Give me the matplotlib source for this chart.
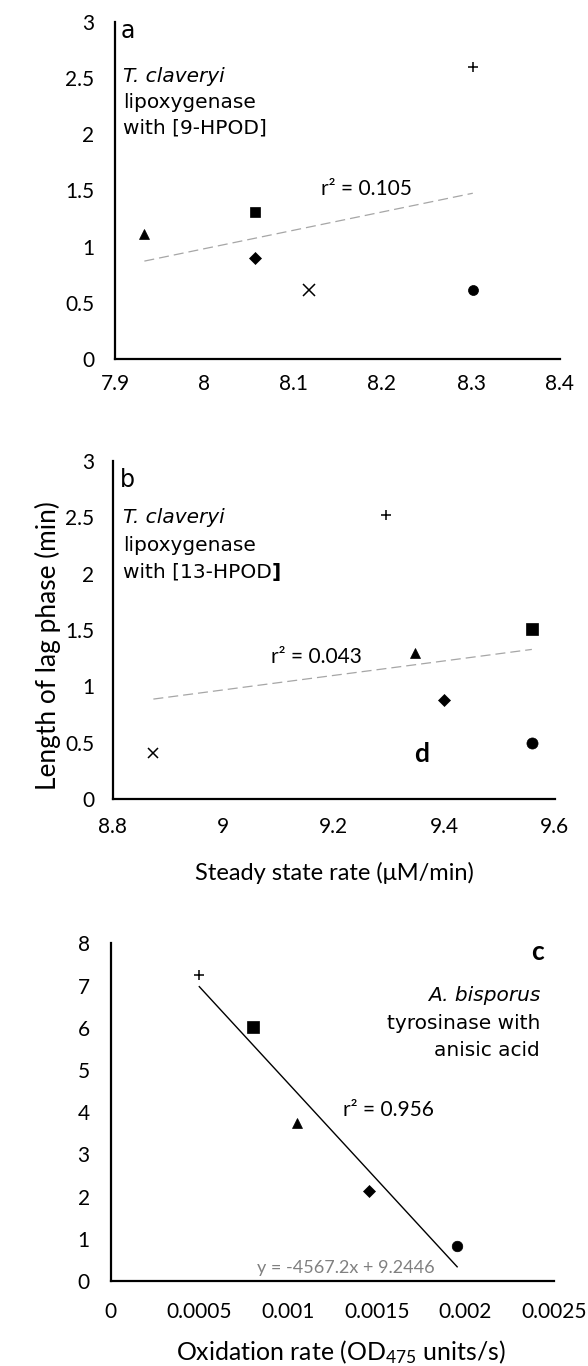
import numpy as np
import matplotlib
matplotlib.use("Agg")
import matplotlib.pyplot as plt

plt.rcParams['font.family'] = ['Lato', 'DejaVu Sans']
plt.rcParams['mathtext.fontset'] = 'custom'
plt.rcParams['mathtext.rm'] = 'Lato'
plt.rcParams['mathtext.it'] = 'Lato:italic'

# ---------------- data ----------------
# marker per compound (same order in every panel)
markers = ['+', 's', '^', 'D', 'o', 'x']

# panel a: T. claveryi lipoxygenase with [9-HPOD]
a_rate = [8.302, 8.057, 7.933, 8.057, 8.302, 8.118]
a_lag = [2.60, 1.31, 1.11, 0.90, 0.61, 0.61]
a_r2 = "r\u00b2 = 0.105"

# panel b: T. claveryi lipoxygenase with [13-HPOD]
b_rate = [9.295, 9.559, 9.347, 9.400, 9.559, 8.874]
b_lag = [2.52, 1.51, 1.30, 0.88, 0.50, 0.41]
b_r2 = "r\u00b2 = 0.043"

# panel c: A. bisporus tyrosinase with anisic acid
c_rate = [0.000500, 0.000805, 0.001052, 0.001457, 0.001954]
c_lag = [7.24, 6.01, 3.74, 2.13, 0.83]
c_r2 = "r\u00b2 = 0.956"
c_eq = "y = -4567.2x + 9.2446"

ab_yticks = [0, 0.5, 1, 1.5, 2, 2.5, 3]
ab_yticklabels = ["0", "0.5", "1", "1.5", "2", "2.5", "3"]
a_xticks = [7.9, 8.0, 8.1, 8.2, 8.3, 8.4]
a_xticklabels = ["7.9", "8", "8.1", "8.2", "8.3", "8.4"]
b_xticks = [8.8, 9.0, 9.2, 9.4, 9.6]
b_xticklabels = ["8.8", "9", "9.2", "9.4", "9.6"]
c_xticks = [0, 0.0005, 0.001, 0.0015, 0.002, 0.0025]
c_xticklabels = ["0", "0.0005", "0.001", "0.0015", "0.002", "0.0025"]
c_yticks = [0, 1, 2, 3, 4, 5, 6, 7, 8]
c_yticklabels = ["0", "1", "2", "3", "4", "5", "6", "7", "8"]

# ---------------- layout ----------------
W, H = 588, 1366
fig = plt.figure(figsize=(W / 100, H / 100), dpi=100)
fig.patch.set_facecolor('white')
renderer = fig.canvas.get_renderer()


def add_ax(l, r, t, b):
    return fig.add_axes([l / W, 1 - b / H, (r - l) / W, (b - t) / H])


def ftext(x, y, s, **kw):
    return fig.text(x / W, 1 - y / H, s, **kw)


def fit_width(t, target_px, vertical=False):
    """scale the font so the text spans target_px pixels"""
    for _ in range(3):
        bb = t.get_window_extent(renderer)
        cur = bb.height if vertical else bb.width
        t.set_fontsize(t.get_fontsize() * target_px / cur)
    return t.get_fontsize()


ANN = dict(family='DejaVu Sans', fontsize=14.5, color='black')
TICK_FS = 15
R2_FS = 15


def style(ax, xpad, ypad):
    for s in ['top', 'right']:
        ax.spines[s].set_visible(False)
    for s in ['left', 'bottom']:
        ax.spines[s].set_linewidth(1.6)
        ax.spines[s].set_color('black')
    ax.tick_params(axis='both', length=0, labelsize=TICK_FS, colors='black')
    ax.tick_params(axis='x', pad=xpad)
    ax.tick_params(axis='y', pad=ypad)


def scatter_points(ax, xs, ys, sizes):
    for x, y, m in zip(xs, ys, markers):
        mew = 1.1 if m in ['+', 'x'] else 0.5
        ax.plot([x], [y], linestyle='none', marker=m, markersize=sizes[m],
                color='black', markeredgewidth=mew, clip_on=False, zorder=3)


def trend(ax, xs, ys, **kw):
    k, c0 = np.polyfit(xs, ys, 1)
    xx = np.array([min(xs), max(xs)])
    ax.plot(xx, k * xx + c0, **kw)


# ---- panel a ----
axa = add_ax(115, 560, 21.7, 359)
axa.set_xlim(7.9, 8.4)
axa.set_ylim(0, 3)
axa.set_xticks(a_xticks, a_xticklabels)
axa.set_yticks(ab_yticks, ab_yticklabels)
style(axa, xpad=11, ypad=15)
trend(axa, a_rate, a_lag, color='#a6a6a6', lw=0.9, linestyle=(0, (8, 4)), zorder=2)
scatter_points(axa, a_rate, a_lag,
               {'+': 7.5, 's': 7.5, '^': 6.8, 'D': 6.2, 'o': 7.2, 'x': 8.5})
ftext(121, 38.3, "a", family='DejaVu Sans', fontsize=17, va='baseline')
ftext(123, 82, "T. claveryi", style='italic', va='baseline', **ANN)
ftext(123, 108, "lipoxygenase", va='baseline', **ANN)
ftext(123, 134, "with [9-HPOD]", va='baseline', **ANN)
ftext(320.6, 195, a_r2, fontsize=R2_FS, va='baseline')

# ---- panel b ----
axb = add_ax(112.5, 554.5, 460.7, 799.3)
axb.set_xlim(8.8, 9.6)
axb.set_ylim(0, 3)
axb.set_xticks(b_xticks, b_xticklabels)
axb.set_yticks(ab_yticks, ab_yticklabels)
style(axb, xpad=13, ypad=13)
trend(axb, b_rate, b_lag, color='#a6a6a6', lw=0.9, linestyle=(0, (8, 4)), zorder=2)
scatter_points(axb, b_rate, b_lag,
               {'+': 6.5, 's': 8.3, '^': 7.5, 'D': 6.5, 'o': 8.0, 'x': 7.8})
ftext(120, 486.7, "b", family='DejaVu Sans', fontsize=17, va='baseline')
ftext(123, 523, "T. claveryi", style='italic', va='baseline', **ANN)
ftext(123, 551, "lipoxygenase", va='baseline', **ANN)
tb = ftext(123, 578, "with [13-HPOD", va='baseline', **ANN)
bb = tb.get_window_extent(renderer)
fig.text(bb.x1 / W, 1 - 578 / H, "]", va='baseline', fontweight='bold', **ANN)
ftext(270.7, 662.7, b_r2, fontsize=R2_FS, va='baseline')
ftext(422, 762, "d", fontsize=19, fontweight='bold', va='baseline', ha='center')

# axis titles: size taken from the y title length
yl = ftext(48, 646, "Length of lag phase (min)", fontsize=19, rotation=90,
           ha='center', va='center')
TITLE_FS = fit_width(yl, 287, vertical=True)
ftext(334, 880, "Steady state rate (\u03bcM/min)", fontsize=TITLE_FS * 0.9,
      ha='center', va='baseline')

# ---- panel c ----
axc = add_ax(110.6, 554, 943.3, 1281)
axc.set_xlim(0, 0.0025)
axc.set_ylim(0, 8)
axc.set_xticks(c_xticks, c_xticklabels)
axc.set_yticks(c_yticks, c_yticklabels)
style(axc, xpad=15, ypad=15)
trend(axc, c_rate, c_lag, color='black', lw=1.0, zorder=2)
scatter_points(axc, c_rate, c_lag,
               {'+': 7.8, 's': 8.0, '^': 7.5, 'D': 6.5, 'o': 7.6, 'x': 8})
ftext(544, 960, "c", fontsize=19, fontweight='bold', va='baseline', ha='right')
ftext(540, 1001, "A. bisporus", style='italic', va='baseline', ha='right', **ANN)
ftext(540, 1029, "tyrosinase with", va='baseline', ha='right', **ANN)
ftext(540, 1056, "anisic acid", va='baseline', ha='right', **ANN)
ftext(343, 1116, c_r2, fontsize=R2_FS, va='baseline')
ftext(257, 1273, c_eq, fontsize=13, color='#808080', va='baseline')
ftext(341, 1360, "Oxidation rate (OD$_{475}$ units/s)", fontsize=TITLE_FS * 0.95,
      ha='center', va='baseline')

fig.savefig("out.png", dpi=100, facecolor='white')
